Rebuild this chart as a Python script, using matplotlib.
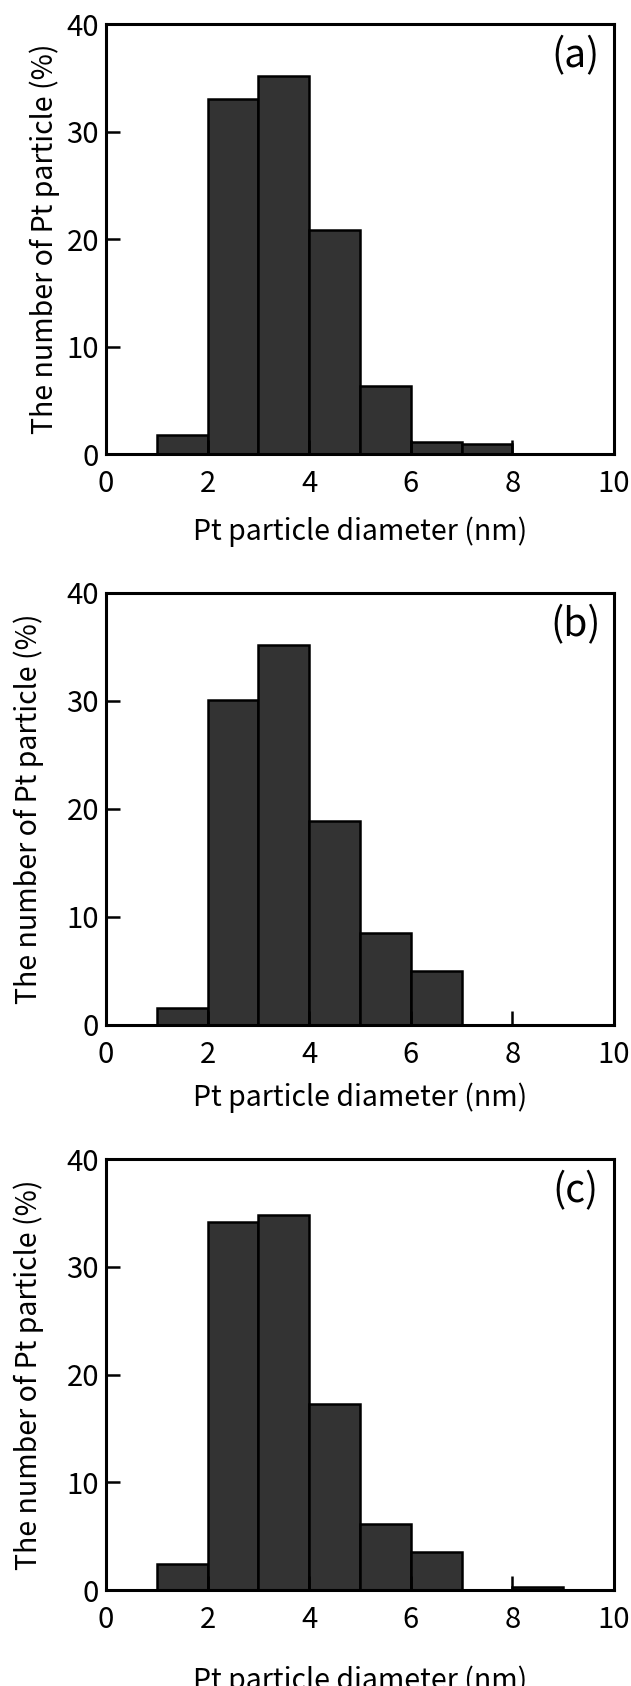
import matplotlib
matplotlib.use("Agg")
import matplotlib.pyplot as plt

plt.rcParams['font.family'] = ['Noto Sans CJK JP', 'DejaVu Sans']

# bin left edges (nm) and percentages for each sample
bin_edges = [0, 1, 2, 3, 4, 5, 6, 7, 8, 9]
pct_a = [0, 1.8, 33.0, 35.2, 20.8, 6.3, 1.1, 0.9, 0, 0]
pct_b = [0, 1.6, 30.1, 35.2, 18.9, 8.5, 5.0, 0, 0, 0]
pct_c = [0, 2.4, 34.2, 34.8, 17.3, 6.1, 3.5, 0, 0.3, 0]
panel_tags = ["(a)", "(b)", "(c)"]

fig = plt.figure(figsize=(6.31, 16.86), dpi=100)

rects = [
    [0.168, 0.7307, 0.805, 0.2550],
    [0.168, 0.3921, 0.805, 0.2562],
    [0.168, 0.0569, 0.805, 0.2556],
]
ylab_x = [-0.090, -0.122, -0.122]
xlab_y = [-0.145, -0.133, -0.176]

for rect, vals, tag, yx, xy in zip(rects, [pct_a, pct_b, pct_c], panel_tags, ylab_x, xlab_y):
    ax = fig.add_axes(rect)
    ax.bar(bin_edges, vals, width=1, align='edge', color='#333333',
           edgecolor='black', linewidth=1.8)
    ax.set_xlim(0, 10)
    ax.set_ylim(0, 40)
    ax.set_xticks([0, 2, 4, 6, 8, 10])
    ax.set_yticks([0, 10, 20, 30, 40])
    ax.tick_params(direction='in', length=10, width=1.8, labelsize=21)
    ax.tick_params(axis='x', pad=11)
    ax.tick_params(axis='y', pad=5)
    for sp in ax.spines.values():
        sp.set_linewidth(2.2)
    ax.set_xlabel("Pt particle diameter (nm)", fontsize=20.5)
    ax.set_ylabel("The number of Pt particle (%)", fontsize=20.5)
    ax.xaxis.set_label_coords(0.5, xy)
    ax.yaxis.set_label_coords(yx, 0.5)
    ax.text(0.925, 0.925, tag, transform=ax.transAxes, fontsize=28,
            ha='center', va='center')

fig.savefig("out.png", dpi=100)
